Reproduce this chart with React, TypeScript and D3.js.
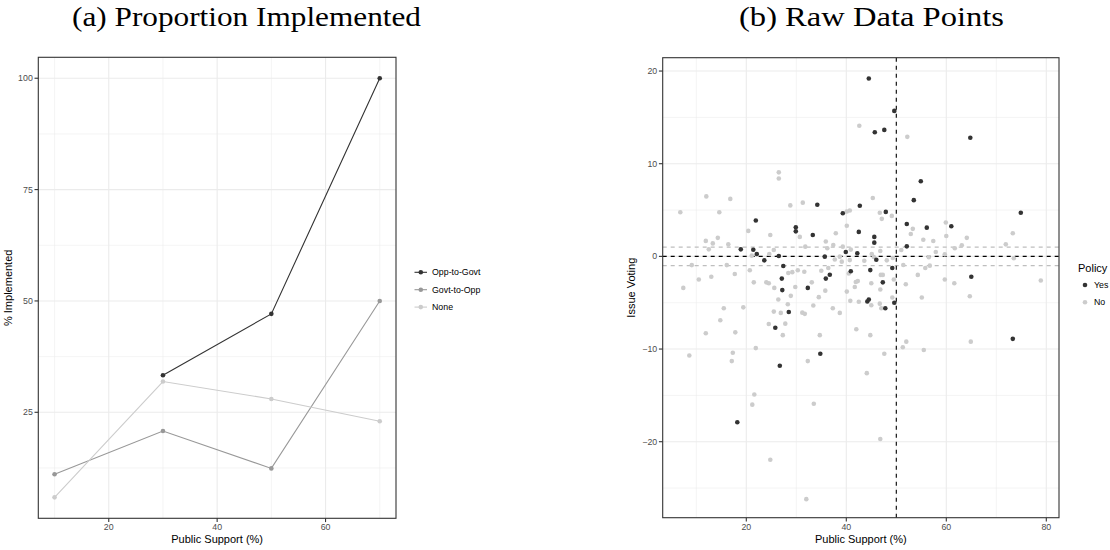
import React from 'react';
import * as d3 from 'd3';

// panel (a) data
const pubSupport = [10, 30, 50, 70];
const oppToGovt = [null, 33.3, 47.1, 100];
const govtToOpp = [11.1, 20.8, 12.4, 50];
const noneSeries = [5.9, 31.9, 28.0, 23.0];
const seriesNames = ['Opp-to-Govt', 'Govt-to-Opp', 'None'];

// panel (b) data: [public support, issue voting]
const yesPoints: [number, number][] = [
  [44.5, 19.2], [49.6, 15.7], [45.7, 13.4], [47.6, 13.65], [64.8, 12.8], [54.9, 8.1],
  [21.9, 3.87], [29.9, 3.15], [29.9, 2.7], [18.9, 0.76], [21.4, 0.72], [22.1, 0.26],
  [23.6, -0.43], [26.5, 0.04], [27.4, -1.04], [27.1, -2.4], [27.2, -3.64], [32.3, -3.4],
  [28.5, -6.0], [25.8, -7.7], [26.7, -11.8], [18.2, -17.9], [34.2, 5.57], [53.5, 6.07],
  [42.7, 5.46], [39.3, 4.66], [47.9, 4.8], [42.5, 2.64], [52.1, 3.5], [56.1, 3.1],
  [61, 3.25], [33.3, 2.3], [45.6, 2.1], [45.6, 1.48], [39.9, 0.47], [42.2, 0.33],
  [35.7, -0.03], [46, -0.36], [52.1, 1.08], [36.7, -1.98], [35.9, -2.4], [40.9, -1.6],
  [44.8, -1.48], [49.2, -1.26], [65, -2.2], [47.3, -2.8], [44.2, -4.87], [44.5, -4.66],
  [47.8, -5.6], [49.6, -5.0], [34.8, -10.5], [74.9, 4.7], [73.3, -8.9],
];
const noPoints: [number, number][] = [
  [26.5, 9.07], [26.5, 8.4], [42.6, 14.1], [52.2, 12.9], [12, 6.47], [16.8, 6.2],
  [6.8, 4.77], [14.6, 4.77], [28.8, 5.5], [31.3, 5.8], [20.4, 2.75], [24.8, 2.3],
  [30.7, 2.1], [11.9, 1.67], [14.3, 2.0], [13.3, 1.4], [12.5, 0.76], [16.4, 1.3],
  [31.8, 1.05], [21.1, 0.08], [24.6, 0.26], [25.5, 0.69], [9.1, -0.94], [16.1, -0.94],
  [20.7, -1.5], [17.7, -1.9], [13, -2.2], [10.5, -2.5], [28.4, -1.8], [29.2, -1.7],
  [30.3, -1.5], [31.6, -1.66], [7.4, -3.4], [21.5, -2.8], [24, -2.8], [24.5, -2.9],
  [25.6, -3.4], [29.8, -3.3], [28.9, -4.26], [26.4, -4.66], [28.3, -5.16], [15.5, -5.6],
  [19.4, -5.5], [25.5, -5.96], [26.9, -6.1], [31.2, -6.07], [31.7, -6.2], [14.8, -6.9],
  [24.5, -7.3], [27.8, -7.26], [27.3, -8.5], [11.9, -8.3], [17.8, -8.2], [21.9, -9.9],
  [8.6, -10.7], [17.3, -10.4], [17.1, -11.3], [32.3, -11.3], [21.6, -14.9], [21.2, -16.0],
  [24.8, -21.95], [32, -26.2], [33.5, -15.9], [46.8, -19.7], [45.3, 6.3], [40.7, 4.95],
  [40.1, 4.84], [46.7, 4.7], [47.1, 4.05], [49.1, 4.37], [40.1, 3.3], [53.3, 2.97],
  [52.9, 2.42], [59.9, 3.65], [60, 2.2], [64.1, 2.0], [55.4, 1.8], [57.4, 1.66],
  [37.9, 2.5], [35.9, 1.6], [37.4, 1.23], [36.2, 0.87], [39.3, 1.05], [40.9, 0.73],
  [46.8, 0.58], [45.1, 0.26], [37.7, -0.33], [38.7, -0.03], [39.1, -0.57], [40.7, -0.4],
  [43.6, -0.47], [45.5, -0.07], [48.1, -0.43], [49.3, -0.17], [51, 0.69], [57.9, 0.47],
  [59.7, 0.22], [61.7, 0.87], [63.1, 1.19], [56.5, -0.1], [35, -1.55], [36.4, -1.26],
  [40.5, -1.84], [46.9, -2.0], [47.3, -2.0], [51.4, -0.93], [54.3, -2.0], [55.8, -1.26],
  [56.7, -1.0], [59.7, -2.5], [33.1, -2.8], [34.5, -4.4], [35.8, -3.7], [33.4, -5.3],
  [37.3, -5.6], [38.7, -6.1], [40.1, -3.8], [41.7, -3.3], [41.9, -2.77], [42.3, -2.67],
  [45, -2.9], [46.8, -3.57], [49.5, -2.5], [40.8, -4.8], [42.5, -4.9], [45, -5.27],
  [46.7, -5.1], [47, -5.6], [49.2, -4.44], [51.9, -3.0], [55.1, -4.44], [61.6, -2.9],
  [64.7, -4.3], [42, -7.87], [34.7, -8.5], [44.8, -8.5], [52, -9.2], [51.3, -9.8],
  [55.5, -10.1], [64.9, -9.2], [47.6, -10.5], [44.1, -12.6], [73.3, 2.5], [71.9, 1.3],
  [73.5, -0.2], [78.9, -2.6],
];

const leftXTicks = [20, 40, 60];
const leftXMinor = [10, 30, 50, 70];
const leftYTicks = [25, 50, 75, 100];
const leftYMinor = [12.5, 37.5, 62.5, 87.5];
const rightXTicks = [20, 40, 60, 80];
const rightXMinor = [10, 30, 50, 70];
const rightYTicks = [-20, -10, 0, 10, 20];
const rightYMinor = [-25, -15, -5, 5, 15];

const greys = ['#333333', '#989898', '#CCCCCC'];
const sans = '"Liberation Sans", Arial, sans-serif';
const serif = '"Liberation Serif", "DejaVu Serif", serif';
const tickCol = '#4D4D4D';
const gridCol = '#EBEBEB';

function Frame({ x, y, xt, xm, yt, ym }: any) {
  const [x0, x1] = x.range();
  const [y0, y1] = y.range();
  return (
    <g>
      {xm.map((v: number) => <line key={'xm' + v} x1={x(v)} x2={x(v)} y1={y0} y2={y1} stroke={gridCol} strokeWidth={0.55} />)}
      {ym.map((v: number) => <line key={'ym' + v} x1={x0} x2={x1} y1={y(v)} y2={y(v)} stroke={gridCol} strokeWidth={0.55} />)}
      {xt.map((v: number) => <line key={'xt' + v} x1={x(v)} x2={x(v)} y1={y0} y2={y1} stroke={gridCol} strokeWidth={1.1} />)}
      {yt.map((v: number) => <line key={'yt' + v} x1={x0} x2={x1} y1={y(v)} y2={y(v)} stroke={gridCol} strokeWidth={1.1} />)}
    </g>
  );
}

function Axes({ x, y, xt, yt, xlab, ylab, ylabX }: any) {
  const [x0, x1] = x.range();
  const [y0, y1] = y.range();
  return (
    <g fontFamily={sans}>
      <rect x={x0} y={y1} width={x1 - x0} height={y0 - y1} fill="none" stroke="#333333" strokeWidth={1.1} />
      {xt.map((v: number) => (
        <g key={'xa' + v}>
          <line x1={x(v)} x2={x(v)} y1={y0} y2={y0 + 3.8} stroke="#333333" strokeWidth={1.1} />
          <text x={x(v)} y={y0 + 12} textAnchor="middle" fontSize={8.8} fill={tickCol}>{v}</text>
        </g>
      ))}
      {yt.map((v: number) => (
        <g key={'ya' + v}>
          <line x1={x0 - 3.8} x2={x0} y1={y(v)} y2={y(v)} stroke="#333333" strokeWidth={1.1} />
          <text x={x0 - 5.5} y={y(v)} dy="0.35em" textAnchor="end" fontSize={8.8} fill={tickCol}>{String(v).replace('-', '\u2212')}</text>
        </g>
      ))}
      <text x={(x0 + x1) / 2} y={543} textAnchor="middle" fontSize={11}>{xlab}</text>
      <text transform={`translate(${ylabX},${(y0 + y1) / 2}) rotate(-90)`} textAnchor="middle" fontSize={11}>{ylab}</text>
    </g>
  );
}

export default function App() {
  // panel (a)
  const xa = d3.scaleLinear().domain([7, 73]).range([38.3, 396]);
  const ya = d3.scaleLinear().domain([1.2, 104.7]).range([518.3, 57.3]);
  const seriesVals = [oppToGovt, govtToOpp, noneSeries];
  const line = d3.line<[number, number | null]>()
    .defined((d) => d[1] != null)
    .x((d) => xa(d[0]))
    .y((d) => ya(d[1] as number));

  // panel (b)
  const xb = d3.scaleLinear().domain([3.28, 82.54]).range([662.7, 1059]);
  const yb = d3.scaleLinear().domain([-28.2, 21.44]).range([517.7, 57.7]);

  return (
    <div style={{ position: 'absolute', left: 0, top: 0 }}>
      <svg width={1110} height={550} style={{ display: 'block', background: '#fff' }}>
        <text x={72} y={26} fontFamily={serif} fontSize={28} textLength={349} lengthAdjust="spacingAndGlyphs">(a) Proportion Implemented</text>
        <text x={739} y={26} fontFamily={serif} fontSize={28} textLength={265} lengthAdjust="spacingAndGlyphs">(b) Raw Data Points</text>

        {/* panel (a) */}
        <Frame x={xa} y={ya} xt={leftXTicks} xm={leftXMinor} yt={leftYTicks} ym={leftYMinor} />
        {seriesVals.map((vals, i) => {
          const pts = pubSupport.map((s, j) => [s, vals[j]] as [number, number | null]);
          return (
            <g key={seriesNames[i]}>
              <path d={line(pts) || ''} fill="none" stroke={greys[i]} strokeWidth={1.1} />
              {pts.filter((p) => p[1] != null).map((p) => (
                <circle key={p[0]} cx={xa(p[0])} cy={ya(p[1] as number)} r={2.3} fill={greys[i]} />
              ))}
            </g>
          );
        })}
        <Axes x={xa} y={ya} xt={leftXTicks} yt={leftYTicks} xlab="Public Support (%)" ylab="% Implemented" ylabX={11.5} />
        <g fontFamily={sans}>
          {seriesNames.map((n, i) => {
            const cy = 272.3 + i * 17.4;
            return (
              <g key={n}>
                <line x1={414.5} x2={427} y1={cy} y2={cy} stroke={greys[i]} strokeWidth={1.1} />
                <circle cx={420.8} cy={cy} r={2.3} fill={greys[i]} />
                <text x={432} y={cy} dy="0.35em" fontSize={8.8}>{n}</text>
              </g>
            );
          })}
        </g>

        {/* panel (b) */}
        <Frame x={xb} y={yb} xt={rightXTicks} xm={rightXMinor} yt={rightYTicks} ym={rightYMinor} />
        <line x1={xb.range()[0]} x2={xb.range()[1]} y1={yb(1)} y2={yb(1)} stroke="#BEBEBE" strokeWidth={1.1} strokeDasharray="4,4" />
        <line x1={xb.range()[0]} x2={xb.range()[1]} y1={yb(-1)} y2={yb(-1)} stroke="#BEBEBE" strokeWidth={1.1} strokeDasharray="4,4" />
        <line x1={xb.range()[0]} x2={xb.range()[1]} y1={yb(0)} y2={yb(0)} stroke="#000" strokeWidth={1.1} strokeDasharray="4,4" />
        <line x1={xb(50)} x2={xb(50)} y1={yb.range()[0]} y2={yb.range()[1]} stroke="#000" strokeWidth={1.1} strokeDasharray="4,4" />
        {noPoints.map((p, i) => <circle key={'n' + i} cx={xb(p[0])} cy={yb(p[1])} r={2.3} fill={greys[2]} />)}
        {yesPoints.map((p, i) => <circle key={'y' + i} cx={xb(p[0])} cy={yb(p[1])} r={2.3} fill={greys[0]} />)}
        <Axes x={xb} y={yb} xt={rightXTicks} yt={rightYTicks} xlab="Public Support (%)" ylab="Issue Voting" ylabX={635} />
        <g fontFamily={sans}>
          <text x={1078} y={272} fontSize={11}>Policy</text>
          {['Yes', 'No'].map((n, i) => (
            <g key={n}>
              <circle cx={1085} cy={285 + i * 17.3} r={2.3} fill={i === 0 ? greys[0] : greys[2]} />
              <text x={1094} y={285 + i * 17.3} dy="0.35em" fontSize={8.8}>{n}</text>
            </g>
          ))}
        </g>
      </svg>
    </div>
  );
}
